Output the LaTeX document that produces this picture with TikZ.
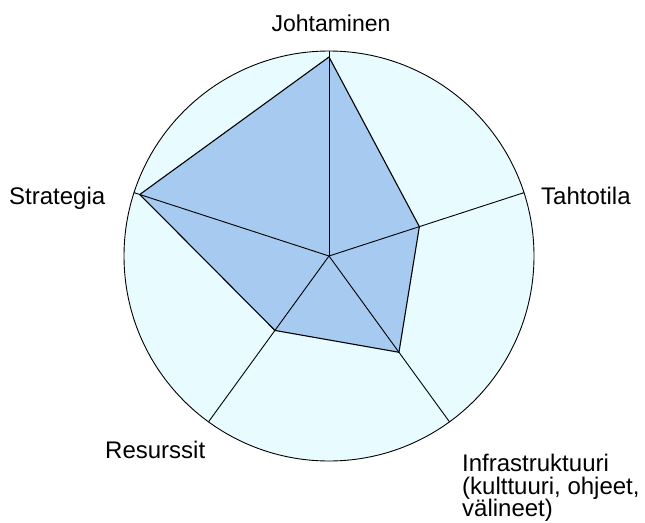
\documentclass[tikz,border=0pt]{standalone}
\usepackage{fontspec}
\setmainfont{Liberation Sans}
\usetikzlibrary{calc}
\definecolor{diskfill}{RGB}{232,252,255}
\definecolor{polyfill}{RGB}{166,202,240}
\begin{document}
\begin{tikzpicture}[x=1pt,y=1pt,
  rim/.style={draw=black, line width=0.9pt, fill=diskfill},
  spoke/.style={draw=black, line width=0.9pt},
  area/.style={draw=black, line width=1.1pt, fill=polyfill, line join=miter},
  lbl/.style={font=\fontsize{24}{22.5}\selectfont, inner sep=0pt, text=black}]
\useasboundingbox (0,0) rectangle (645,-522);
\coordinate (c) at (329,-256);
% outer disk
\path[rim] (c) circle (205);
% axis end points on the rim
\coordinate (e1) at ($(c)+(90:205)$);
\coordinate (e2) at ($(c)+(18:205)$);
\coordinate (e3) at ($(c)+(-54:205)$);
\coordinate (e4) at ($(c)+(-126:205)$);
\coordinate (e5) at ($(c)+(162:205)$);
% data values
\coordinate (p1) at ($(c)+(90:199)$);
\coordinate (p2) at ($(c)+(18:95)$);
\coordinate (p3) at ($(c)+(-54:119)$);
\coordinate (p4) at ($(c)+(-126:92)$);
\coordinate (p5) at ($(c)+(162:199)$);
\path[area] (p1) -- (p2) -- (p3) -- (p4) -- (p5) -- cycle;
% axes
\foreach \e in {e1,e2,e3,e4,e5} \draw[spoke] (c) -- (\e);
% axis labels
\node[lbl, font=\fontsize{23}{22.5}\selectfont, anchor=base] (l1) at (331,-31) {Johtaminen};
\node[lbl, anchor=base west] (l2) at (541,-204) {Tahtotila};
\node[lbl, anchor=base west] (l5) at (9,-204) {Strategia};
\node[lbl, anchor=base west] (l4) at (105,-458) {Resurssit};
\node[lbl, anchor=north west, align=left] (l3) at (462,-454) {Infrastruktuuri\\(kulttuuri, ohjeet,\\välineet)};
\end{tikzpicture}
\end{document}
